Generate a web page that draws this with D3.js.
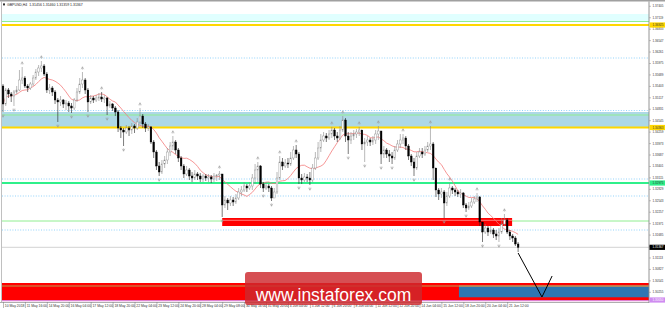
<!DOCTYPE html>
<html>
<head>
<meta charset="utf-8">
<script src="https://cdn.jsdelivr.net/npm/d3@7"></script>
<style>
  body { margin: 0; background: #fff; }
  svg { display: block; }
</style>
</head>
<body>
<div id="chart"></div>
<script>
// GBPUSD H4
const symbolTitle = "GBPUSD,H4  1.31456 1.31460 1.31359 1.31367";
const firstOpen = 1.3540;

const closes = [
  1.3495, 1.3530, 1.3520, 1.3515, 1.3525, 1.3530, 1.3555, 1.3560, 1.3540, 1.3535,
  1.3545, 1.3560, 1.3575, 1.3585, 1.3590, 1.3570, 1.3530, 1.3535, 1.3525, 1.3505,
  1.3500, 1.3505, 1.3495, 1.34975, 1.3490, 1.3485, 1.3505, 1.3525, 1.3545, 1.3555,
  1.3530, 1.3500, 1.3510, 1.3505, 1.3510, 1.35125, 1.35075, 1.3510, 1.3490, 1.3495,
  1.3485, 1.3475, 1.3435, 1.3430, 1.3425, 1.3435, 1.3430, 1.3440, 1.3435, 1.3450,
  1.3465, 1.3445, 1.3435, 1.34375, 1.3400, 1.3375, 1.3340, 1.3325, 1.3345, 1.3355,
  1.3375, 1.3390, 1.3400, 1.3380, 1.3360, 1.3340, 1.3320, 1.3330, 1.3315, 1.3310,
  1.3320, 1.3315, 1.33075, 1.3315, 1.3310, 1.33125, 1.33075, 1.3315, 1.33175, 1.3320,
  1.32425, 1.3255, 1.32475, 1.3255, 1.3250, 1.3260, 1.3275, 1.3280, 1.3290, 1.3285,
  1.3290, 1.3310, 1.3330, 1.3340, 1.3295, 1.3285, 1.3290, 1.3285, 1.3260, 1.3275,
  1.3310, 1.3350, 1.3340, 1.33475, 1.3345, 1.3360, 1.3380, 1.3370, 1.3310, 1.3305,
  1.33125, 1.3310, 1.3305, 1.3335, 1.3360, 1.3385, 1.3405, 1.3415, 1.3410, 1.3420,
  1.3430, 1.3415, 1.3410, 1.3430, 1.3455, 1.3415, 1.3405, 1.3415, 1.3420, 1.3425,
  1.3430, 1.3395, 1.3400, 1.3405, 1.3400, 1.3405, 1.3420, 1.34275, 1.3370, 1.3380,
  1.3370, 1.3365, 1.3360, 1.3380, 1.3395, 1.3405, 1.3410, 1.3390, 1.3365, 1.3350,
  1.3335, 1.3365, 1.3375, 1.3370, 1.3380, 1.3390, 1.3395, 1.3335, 1.3280, 1.3270,
  1.3275, 1.32475, 1.3265, 1.3285, 1.3280, 1.3275, 1.3270, 1.32725, 1.32425, 1.3235,
  1.3240, 1.3250, 1.32575, 1.32625, 1.3200, 1.3175, 1.3185, 1.3175, 1.3180, 1.3170,
  1.3165, 1.3175, 1.3195, 1.3205, 1.3175, 1.3165, 1.3160, 1.3145, 1.31367
];

const highs = [
  1.3545, 1.3535, 1.3535, 1.3525, 1.3530, 1.3540, 1.3580, 1.35875, 1.3565, 1.3545,
  1.3550, 1.35675, 1.35825, 1.35925, 1.36025, 1.3595, 1.3575, 1.3545, 1.3540, 1.3530,
  1.3510, 1.3515, 1.35075, 1.3505, 1.35025, 1.34975, 1.3510, 1.3535, 1.3560, 1.3575,
  1.3560, 1.3535, 1.35175, 1.3515, 1.35175, 1.35225, 1.3525, 1.35175, 1.35125, 1.35025,
  1.34975, 1.3490, 1.3480, 1.3440, 1.3435, 1.34425, 1.3440, 1.34475, 1.3445, 1.3460,
  1.3485, 1.3470, 1.3450, 1.3445, 1.3440, 1.3405, 1.3380, 1.3350, 1.3355, 1.3365,
  1.3385, 1.3400, 1.3415, 1.3405, 1.3385, 1.3365, 1.3345, 1.3340, 1.3335, 1.3325,
  1.3330, 1.3325, 1.33225, 1.3320, 1.3320, 1.3320, 1.33175, 1.33225, 1.3320, 1.33275,
  1.3320, 1.3265, 1.3260, 1.3265, 1.32625, 1.3270, 1.3285, 1.3290, 1.3300, 1.3295,
  1.3300, 1.3320, 1.3345, 1.3350, 1.33425, 1.3300, 1.3300, 1.3295, 1.3290, 1.3285,
  1.3325, 1.3365, 1.3360, 1.33575, 1.3360, 1.3375, 1.3390, 1.33925, 1.3375, 1.3320,
  1.33225, 1.3320, 1.3325, 1.3345, 1.3375, 1.3400, 1.3420, 1.3425, 1.34225, 1.3430,
  1.34375, 1.3435, 1.3425, 1.3440, 1.3465, 1.3460, 1.3425, 1.3425, 1.3430, 1.34325,
  1.34375, 1.3430, 1.3410, 1.3415, 1.3410, 1.3415, 1.3430, 1.3440, 1.3425, 1.3390,
  1.3385, 1.3380, 1.3375, 1.3390, 1.3405, 1.3420, 1.3420, 1.3415, 1.3395, 1.3370,
  1.3360, 1.3375, 1.3385, 1.3385, 1.3390, 1.3400, 1.3440, 1.3400, 1.3335, 1.3285,
  1.3285, 1.3280, 1.3275, 1.32975, 1.3290, 1.3285, 1.3280, 1.32825, 1.3275, 1.32475,
  1.3250, 1.3260, 1.3265, 1.32725, 1.3265, 1.3200, 1.3195, 1.3190, 1.3190, 1.3185,
  1.3180, 1.3185, 1.3210, 1.3220, 1.3210, 1.3180, 1.3170, 1.3165, 1.3150
];

const lows = [
  1.3475, 1.3490, 1.3510, 1.3500, 1.3490, 1.3520, 1.35275, 1.3545, 1.3535, 1.3525,
  1.3530, 1.3540, 1.3555, 1.3565, 1.3575, 1.3565, 1.35225, 1.3520, 1.3515, 1.3495,
  1.3450, 1.3490, 1.3485, 1.3480, 1.3475, 1.34725, 1.3480, 1.3500, 1.3520, 1.3535,
  1.3520, 1.3475, 1.3495, 1.34975, 1.3500, 1.35025, 1.3500, 1.34975, 1.34675, 1.3485,
  1.34775, 1.3465, 1.3425, 1.3410, 1.3390, 1.3420, 1.3415, 1.3420, 1.34225, 1.3430,
  1.3445, 1.3435, 1.3425, 1.34275, 1.3395, 1.3360, 1.3330, 1.3315, 1.3320, 1.3335,
  1.3345, 1.3365, 1.3380, 1.3370, 1.3350, 1.3330, 1.3310, 1.3315, 1.3305, 1.3300,
  1.3305, 1.3305, 1.3300, 1.3300, 1.33025, 1.3300, 1.32975, 1.3300, 1.33025, 1.3305,
  1.32125, 1.3235, 1.3230, 1.3240, 1.3240, 1.3245, 1.3255, 1.3265, 1.3275, 1.3275,
  1.3280, 1.3280, 1.3295, 1.3300, 1.3285, 1.3275, 1.3280, 1.3275, 1.32525, 1.3260,
  1.3270, 1.3305, 1.3330, 1.3335, 1.3335, 1.3340, 1.3355, 1.3360, 1.3295, 1.3295,
  1.3300, 1.3300, 1.32925, 1.3300, 1.3330, 1.3355, 1.3375, 1.3400, 1.3400, 1.3405,
  1.3410, 1.3405, 1.3400, 1.3405, 1.3425, 1.3400, 1.3370, 1.3395, 1.3405, 1.3410,
  1.3415, 1.3380, 1.3350, 1.3390, 1.3390, 1.33925, 1.3395, 1.3405, 1.3345, 1.3360,
  1.3360, 1.3350, 1.3345, 1.3355, 1.3375, 1.3385, 1.3395, 1.3380, 1.3355, 1.3340,
  1.3315, 1.3330, 1.3360, 1.3360, 1.3365, 1.3375, 1.3380, 1.3305, 1.32625, 1.3255,
  1.3260, 1.3210, 1.3240, 1.3260, 1.3270, 1.3265, 1.32625, 1.3260, 1.3235, 1.3225,
  1.3230, 1.3235, 1.3245, 1.3250, 1.3190, 1.3150, 1.3170, 1.3165, 1.3170, 1.3160,
  1.3155, 1.3150, 1.3170, 1.3190, 1.3170, 1.3155, 1.3150, 1.3140, 1.3125
];

const fractalUp = [7, 14, 29, 36, 50, 62, 79, 93, 101, 107, 120, 124, 130, 137, 146, 156, 163, 173, 183];
const fractalDown = [0, 4, 20, 25, 31, 38, 44, 57, 80, 95, 98, 108, 112, 126, 132, 138, 142, 150, 161, 169, 175, 181];

const timeTickIdx = [0, 8, 16, 24, 32, 40, 48, 56, 64, 72, 80, 88, 96, 104, 112, 120, 128, 136, 144, 152, 160, 168, 176, 184];
const timeLabels = [
  "10 May 2018", "11 May 16:00", "14 May 20:00", "16 May 04:00", "17 May 12:00", "18 May 20:00",
  "22 May 04:00", "23 May 12:00", "24 May 20:00", "28 May 04:00", "29 May 08:00", "30 May 16:00",
  "31 May 20:00", "4 Jun 04:00", "5 Jun 12:00", "6 Jun 20:00", "8 Jun 04:00", "11 Jun 12:00",
  "12 Jun 20:00", "14 Jun 04:00", "15 Jun 12:00", "18 Jun 20:00", "20 Jun 04:00", "21 Jun 12:00"
];

const priceTicks = [
  1.37405, 1.37119, 1.36833, 1.36547, 1.36261, 1.35975, 1.35689, 1.35403, 1.35117, 1.34831,
  1.34545, 1.34259, 1.33973, 1.33687, 1.33401, 1.33115, 1.32829, 1.32543, 1.32257, 1.31971,
  1.31685, 1.31399, 1.31113, 1.30827, 1.30541, 1.30255
];

// levels / zones drawn on the chart
const cyanZone = [1.370125, 1.3720];
const blueZone = [1.34375, 1.3475];
const yellowLevels = [1.36925, 1.343625];
const lightGreenLevels = [1.370125, 1.34675, 1.32025];
const greenLevel = 1.32975;
const dottedLevels = [1.361, 1.347875, 1.33075, 1.3265, 1.318];
const redBar = {from: 80, to: 185.8, lo: 1.319, hi: 1.321};
const bottomZone = [1.3005, 1.30475];
const bottomLine = 1.304;
const blueBox = {from: 166.4, lo: 1.30118, hi: 1.30383};
const purpleLevel = 1.3005;
const lastPrice = 1.31367;
const projIdx = [188, 196.7, 200.4];
const projPrice = [1.31225, 1.30125, 1.3065];
const maPeriod = 10;

const W = 665, H = 312;
const P = {left: 2, right: 649, top: 2, bottom: 302};

const x = d3.scaleLinear().domain([0, 235.4]).range([3, 648]);
const y = d3.scaleLinear().domain([1.30, 1.3755]).range([302, 0]);

const svg = d3.select("#chart").append("svg")
  .attr("width", W).attr("height", H)
  .style("font-family", "'Liberation Sans', Arial, sans-serif");

svg.append("defs").append("clipPath").attr("id", "plot")
  .append("rect").attr("x", P.left).attr("y", P.top)
  .attr("width", P.right - P.left).attr("height", P.bottom - P.top);

const g = svg.append("g").attr("clip-path", "url(#plot)");

// zones
g.append("rect").attr("x", P.left).attr("width", P.right - P.left)
  .attr("y", y(cyanZone[1])).attr("height", y(cyanZone[0]) - y(cyanZone[1]))
  .attr("fill", "#e0ffff");
g.append("rect").attr("x", P.left).attr("width", P.right - P.left)
  .attr("y", y(blueZone[1])).attr("height", y(blueZone[0]) - y(blueZone[1]))
  .attr("fill", "#add8e6");

// dotted levels
g.selectAll(".dot").data(dottedLevels).enter().append("line")
  .attr("x1", P.left).attr("x2", P.right)
  .attr("y1", d => y(d)).attr("y2", d => y(d))
  .attr("stroke", "#87cefa").attr("stroke-width", 0.9).attr("stroke-dasharray", "1,1.6");

g.selectAll(".lg").data(lightGreenLevels).enter().append("line")
  .attr("x1", P.left).attr("x2", P.right)
  .attr("y1", d => y(d)).attr("y2", d => y(d))
  .attr("stroke", "#90ee90").attr("stroke-width", 1);

g.append("line").attr("x1", P.left).attr("x2", P.right)
  .attr("y1", y(greenLevel)).attr("y2", y(greenLevel))
  .attr("stroke", "#2ff08a").attr("stroke-width", 2);

g.selectAll(".yl").data(yellowLevels).enter().append("line")
  .attr("x1", P.left).attr("x2", P.right)
  .attr("y1", d => y(d)).attr("y2", d => y(d))
  .attr("stroke", "#ffd700").attr("stroke-width", 2);

// bottom zone
g.append("rect").attr("x", P.left).attr("width", P.right - P.left)
  .attr("y", y(bottomZone[1])).attr("height", y(bottomZone[0]) - y(bottomZone[1]))
  .attr("fill", "#ff0000");
g.append("rect").attr("x", x(blueBox.from)).attr("width", P.right - x(blueBox.from))
  .attr("y", y(blueBox.hi)).attr("height", y(blueBox.lo) - y(blueBox.hi))
  .attr("fill", "#2f76b2");
g.append("line").attr("x1", P.left).attr("x2", x(blueBox.from))
  .attr("y1", y(bottomLine)).attr("y2", y(bottomLine))
  .attr("stroke", "#b8a050").attr("stroke-width", 1);
g.append("line").attr("x1", x(blueBox.from)).attr("x2", P.right)
  .attr("y1", y(bottomLine)).attr("y2", y(bottomLine))
  .attr("stroke", "#90ee90").attr("stroke-width", 1);
g.append("line").attr("x1", P.left).attr("x2", P.right)
  .attr("y1", y(purpleLevel) + 0.6).attr("y2", y(purpleLevel) + 0.6)
  .attr("stroke", "#e080d0").attr("stroke-width", 1.2);

// red bar
g.append("rect").attr("x", x(redBar.from)).attr("width", x(redBar.to) - x(redBar.from))
  .attr("y", y(redBar.hi)).attr("height", y(redBar.lo) - y(redBar.hi))
  .attr("fill", "#ff0000");
g.append("line").attr("x1", x(redBar.from)).attr("x2", x(redBar.to))
  .attr("y1", y(redBar.hi) + 2.3).attr("y2", y(redBar.hi) + 2.3)
  .attr("stroke", "#ff9a9a").attr("stroke-width", 0.8);

// current price line
g.append("line").attr("x1", P.left).attr("x2", P.right)
  .attr("y1", y(lastPrice)).attr("y2", y(lastPrice))
  .attr("stroke", "#c8c8c8").attr("stroke-width", 0.8);

// moving average
const ma = closes.map((c, i) => d3.mean(closes.slice(Math.max(0, i - maPeriod + 1), i + 1)));
g.append("path").datum(ma)
  .attr("fill", "none").attr("stroke", "#f47b7b").attr("stroke-width", 0.8)
  .attr("d", d3.line().x((d, i) => x(i)).y(d => y(d)));

// candles
const candles = closes.map((c, i) => ({i, o: i ? closes[i - 1] : firstOpen, c, h: highs[i], l: lows[i]}));
const cg = g.append("g");
cg.selectAll(".wick").data(candles).enter().append("line")
  .attr("x1", d => x(d.i)).attr("x2", d => x(d.i))
  .attr("y1", d => y(d.h)).attr("y2", d => y(d.l))
  .attr("stroke", d => d.c >= d.o ? "#8a8a8a" : "#222").attr("stroke-width", 0.6);
const bw = 1.7;
cg.selectAll(".body").data(candles).enter().append("rect")
  .attr("x", d => x(d.i) - bw / 2).attr("width", bw)
  .attr("y", d => y(Math.max(d.o, d.c)))
  .attr("height", d => Math.max(0.6, Math.abs(y(d.o) - y(d.c))))
  .attr("fill", d => d.c >= d.o ? "#ffffff" : "#000000")
  .attr("stroke", d => d.c >= d.o ? "#8a8a8a" : "#000000").attr("stroke-width", 0.4);

// fractals
g.selectAll(".fu").data(fractalUp).enter().append("path")
  .attr("transform", i => `translate(${x(i)},${y(highs[i]) - 4})`)
  .attr("d", "M-1.3,1.2L0,-1.2L1.3,1.2M0,-1.2V1.6")
  .attr("fill", "none").attr("stroke", "#9a9a9a").attr("stroke-width", 0.55);
g.selectAll(".fd").data(fractalDown).enter().append("path")
  .attr("transform", i => `translate(${x(i)},${y(lows[i]) + 4})`)
  .attr("d", "M-1.3,-1.2L0,1.2L1.3,-1.2M0,1.2V-1.6")
  .attr("fill", "none").attr("stroke", "#9a9a9a").attr("stroke-width", 0.55);

// projection arrow
g.append("path").datum(projIdx.map((d, k) => [d, projPrice[k]]))
  .attr("fill", "none").attr("stroke", "#000").attr("stroke-width", 1)
  .attr("d", d3.line().x(d => x(d[0])).y(d => y(d[1])));

// frame
svg.append("rect").attr("x", 0).attr("y", 0).attr("width", W).attr("height", 1.5).attr("fill", "#a0a0a0");
svg.append("line").attr("x1", 1.5).attr("x2", 1.5).attr("y1", 1.5).attr("y2", P.bottom)
  .attr("stroke", "#b0b0b0").attr("stroke-width", 0.8);
svg.append("line").attr("x1", 0).attr("x2", P.right).attr("y1", P.bottom + 0.5).attr("y2", P.bottom + 0.5)
  .attr("stroke", "#999").attr("stroke-width", 0.8);

// price axis
const yAxis = d3.axisRight(y).tickValues(priceTicks).tickSize(2).tickSizeOuter(0)
  .tickFormat(d3.format(".5f"));
svg.append("g").attr("transform", `translate(${P.right},0)`).call(yAxis)
  .call(a => a.select(".domain").attr("stroke", "#888").attr("stroke-width", 0.9)
    .attr("d", `M0,1.5V${P.bottom + 1}`))
  .call(a => a.selectAll(".tick line").attr("stroke", "#888").attr("stroke-width", 0.5))
  .call(a => a.selectAll("text").attr("x", 3.6).attr("font-size", 3).attr("fill", "#333"));

// highlighted price labels
const tags = [
  {p: yellowLevels[0], bg: "#ffd700", fg: "#333"},
  {p: yellowLevels[1], bg: "#ffd700", fg: "#333"},
  {p: greenLevel, bg: "#2ff08a", fg: "#333"},
  {p: lastPrice, bg: "#000", fg: "#fff"},
  {p: purpleLevel, bg: "#cf8cf0", fg: "#fff"}
];
const tg = svg.append("g");
tg.selectAll("rect").data(tags).enter().append("rect")
  .attr("x", P.right + 0.5).attr("width", W - P.right - 0.5)
  .attr("y", d => y(d.p) - 2.6).attr("height", 5.2).attr("fill", d => d.bg);
tg.selectAll("text").data(tags).enter().append("text")
  .attr("x", P.right + 3.6).attr("y", d => y(d.p) + 1.1)
  .attr("font-size", 3).attr("fill", d => d.fg)
  .text(d => d3.format(".5f")(d.p));

// time axis
const xAxis = d3.axisBottom(x).tickValues(timeTickIdx).tickSize(6).tickSizeOuter(0)
  .tickFormat((d, k) => timeLabels[k]);
svg.append("g").attr("transform", `translate(0,${P.bottom})`).call(xAxis)
  .call(a => a.select(".domain").remove())
  .call(a => a.selectAll(".tick line").attr("stroke", "#777").attr("stroke-width", 0.5))
  .call(a => a.selectAll("text").attr("text-anchor", "start").attr("x", 1.3).attr("y", 2.6)
    .attr("dy", "0.71em").attr("font-size", 3.4).attr("fill", "#333"));

// header
svg.append("rect").attr("x", 3).attr("y", 3.4).attr("width", 2).attr("height", 2).attr("fill", "#333");
svg.append("text").attr("x", 7).attr("y", 6.3).attr("font-size", 3.5).attr("fill", "#222")
  .attr("xml:space", "preserve").text(symbolTitle);

// watermark
svg.append("rect").attr("x", 245).attr("y", 272).attr("width", 177).attr("height", 33).attr("rx", 3)
  .attr("fill", "rgba(205,40,45,0.82)");
svg.append("text").attr("x", 333.5).attr("y", 300.5).attr("text-anchor", "middle")
  .attr("font-size", 17.5).attr("fill", "#fff").text("www.instaforex.com");
</script>
</body>
</html>
